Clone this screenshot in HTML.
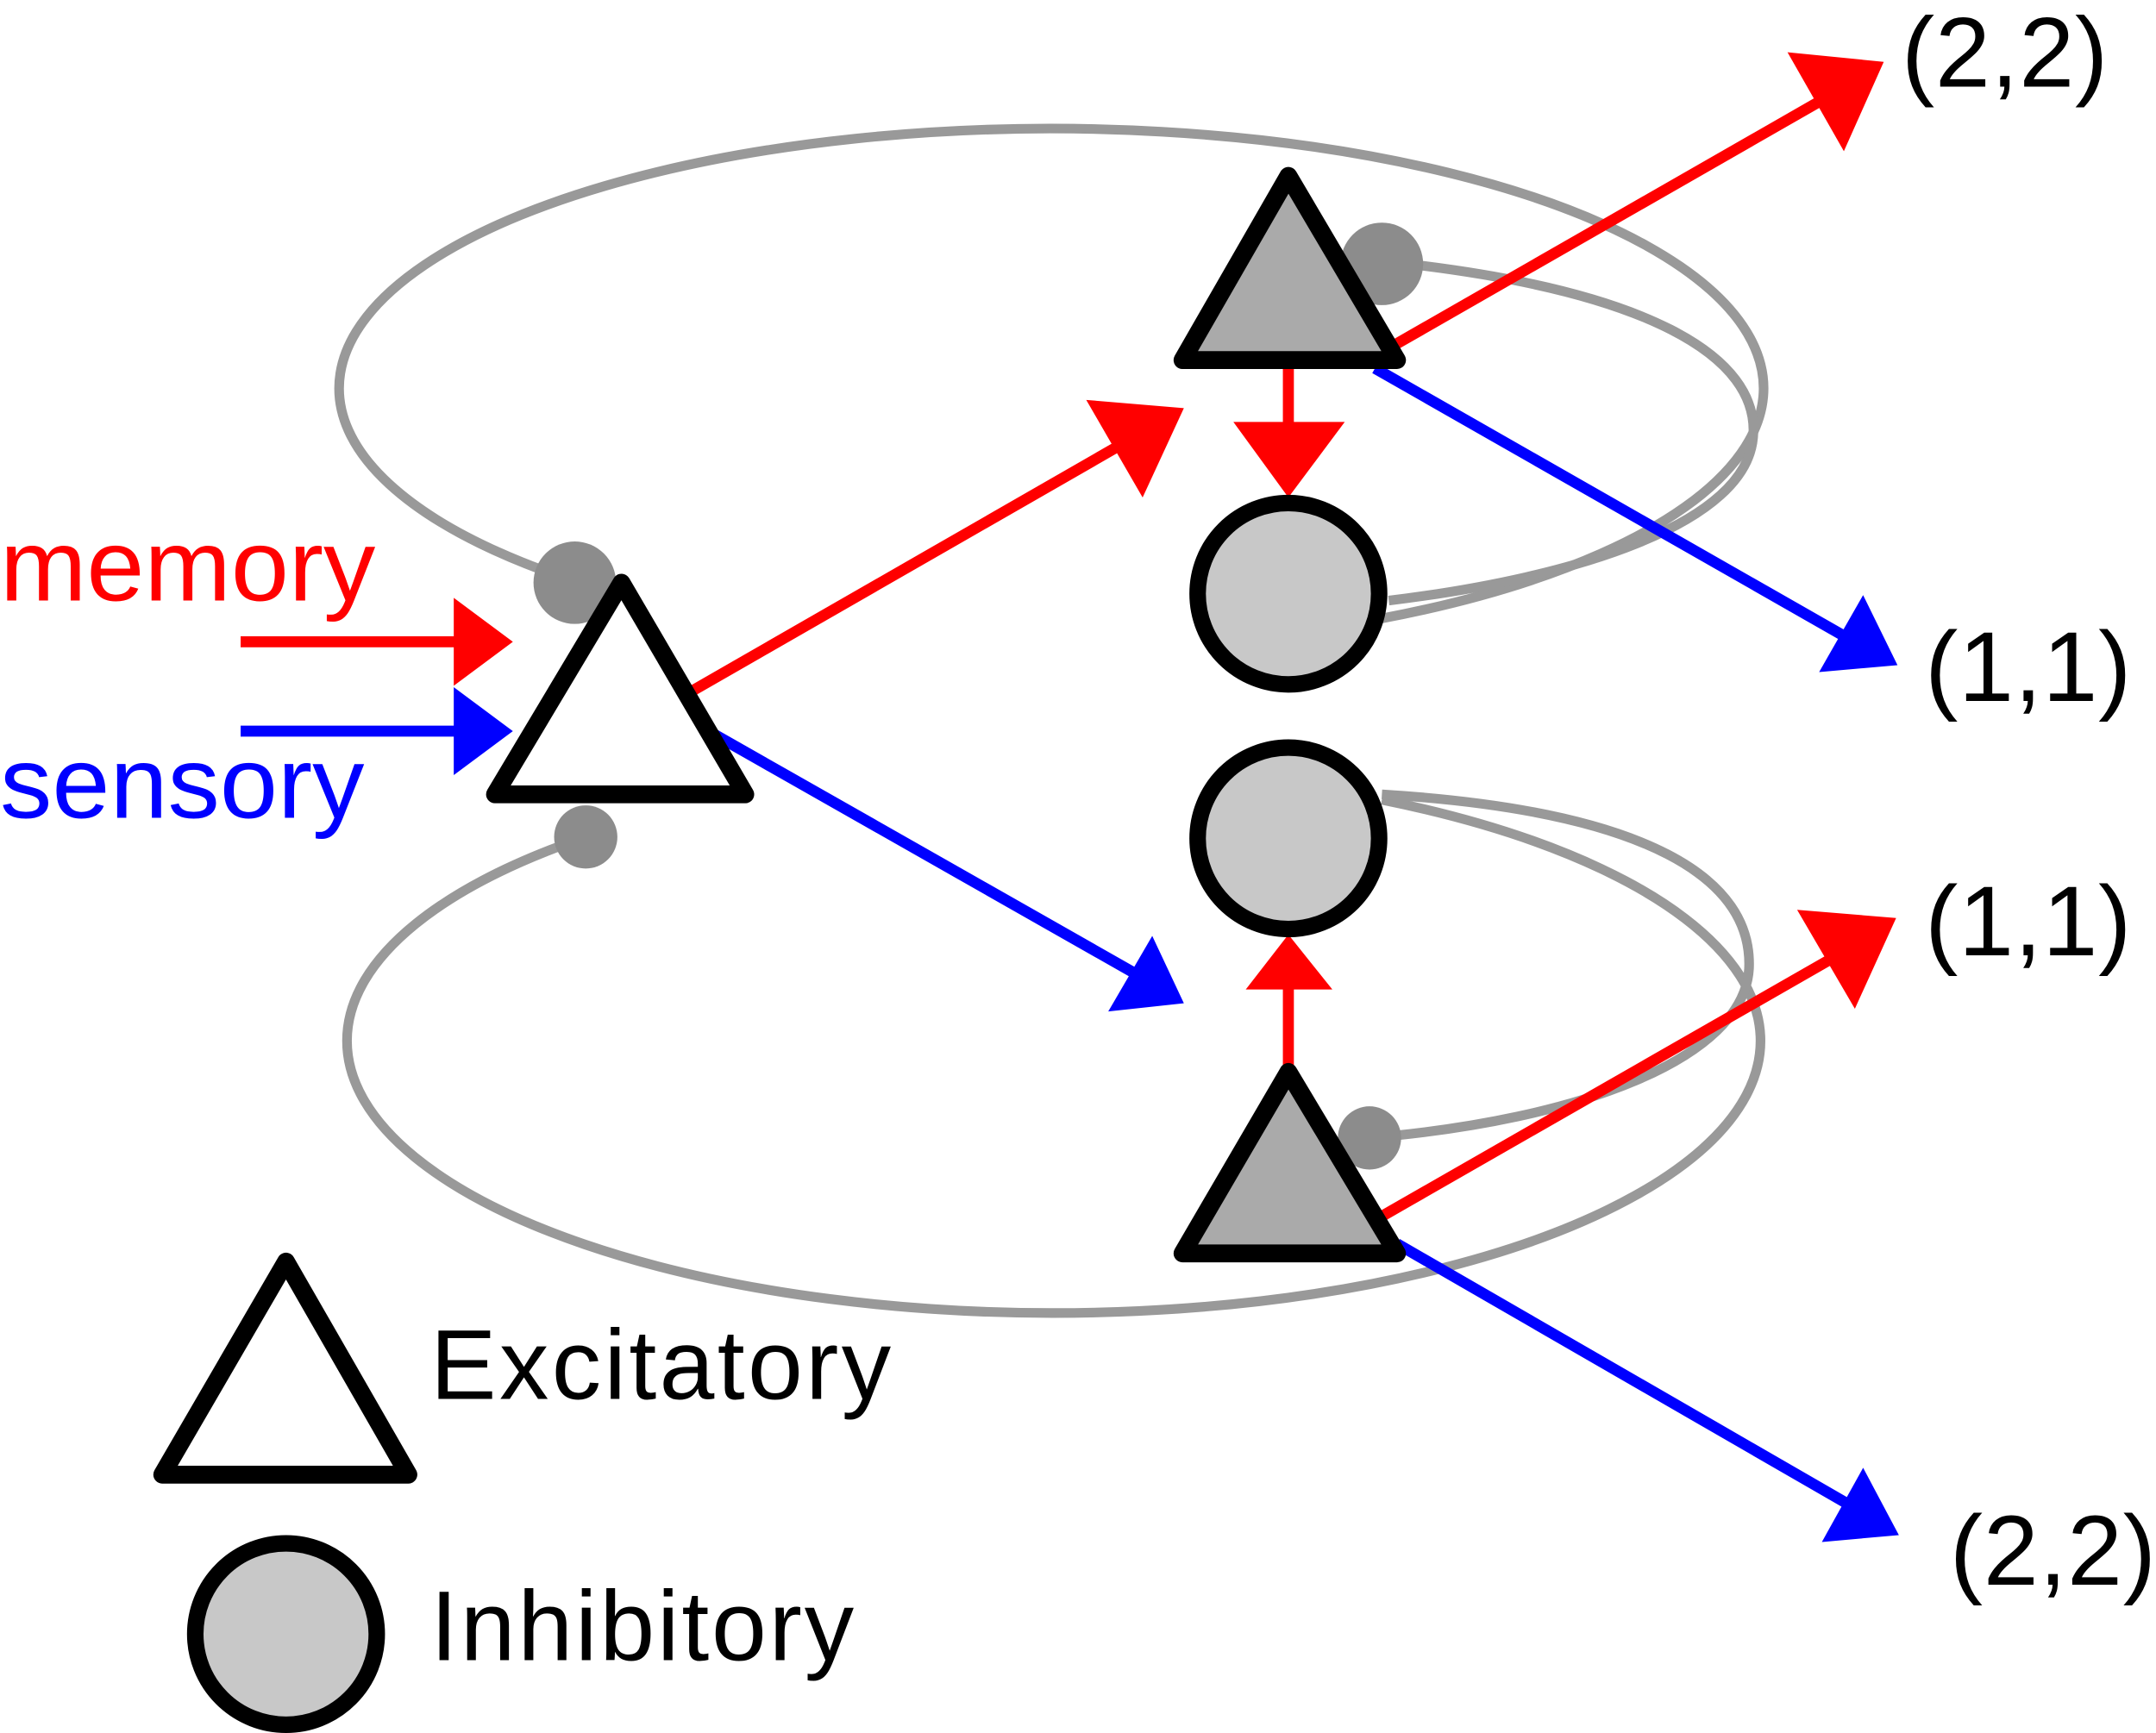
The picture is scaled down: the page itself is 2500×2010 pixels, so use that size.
<!DOCTYPE html>
<html><head><meta charset="utf-8"><style>
html,body{margin:0;padding:0;background:#fff;}
svg{display:block;}
text{font-family:"Liberation Sans",sans-serif;}
</style></head><body>
<svg width="2500" height="2010" viewBox="0 0 1568 1261" preserveAspectRatio="none" xmlns="http://www.w3.org/2000/svg">
<g fill="none" stroke="#999" stroke-width="7">
<path d="M395 415 A518 189 0 1 1 1005 450"/>
<path d="M1005 190 C1200 210 1280 260 1275 318 C1270 380 1150 420 1010 437"/>
<path d="M426 609 A514 198 0 1 0 1005 582"/>
<path d="M1005 578 C1200 590 1275 640 1272 705 C1268 770 1150 815 996 828"/>
</g>
<g fill="#8c8c8c">
<circle cx="418" cy="424" r="30"/>
<circle cx="1005" cy="192" r="30"/>
<circle cx="426" cy="609" r="23"/>
<circle cx="996" cy="828" r="23"/>
</g>
<g stroke-width="8">
<line x1="175" y1="467" x2="335" y2="467" stroke="#f00"/>
<line x1="175" y1="532" x2="335" y2="532" stroke="#00f"/>
<line x1="503" y1="503" x2="818" y2="322" stroke="#f00"/>
<line x1="503" y1="525" x2="832" y2="712" stroke="#00f"/>
<line x1="1016" y1="250" x2="1330" y2="70" stroke="#f00"/>
<line x1="1000" y1="268" x2="1345" y2="465" stroke="#00f"/>
<line x1="937" y1="268" x2="937" y2="312" stroke="#f00"/>
<line x1="937" y1="778" x2="937" y2="718" stroke="#f00"/>
<line x1="1005" y1="885" x2="1340" y2="693" stroke="#f00"/>
<line x1="1016" y1="905" x2="1345" y2="1095" stroke="#00f"/>
</g>
<g fill="#f00">
<polygon points="330,435 373,467 330,499"/>
<polygon points="861,297 790,291 831,362"/>
<polygon points="1370,45 1300,38 1341,110"/>
<polygon points="897,307 978,307 937,362"/>
<polygon points="906,720 969,720 937,680"/>
<polygon points="1379,668 1307,662 1349,734"/>
</g>
<g fill="#00f">
<polygon points="330,500 373,532 330,564"/>
<polygon points="861,730 806,736 838,681"/>
<polygon points="1380,484 1355,433 1323,489"/>
<polygon points="1381,1117 1355,1068 1325,1122"/>
</g>
<g stroke="#000" stroke-width="13" stroke-linejoin="round">
<polygon points="360,578 452,424 542,578" fill="#fff"/>
<polygon points="860,262 937,128 1016,262" fill="#aaa"/>
<polygon points="860,912 937,780 1016,912" fill="#aaa"/>
<polygon points="118,1073 208,918 297,1073" fill="#fff"/>
</g>
<g stroke="#000" stroke-width="12" fill="#c8c8c8">
<circle cx="937" cy="432" r="66"/>
<circle cx="937" cy="610" r="66"/>
<circle cx="208" cy="1189" r="66"/>
</g>
<text x="0" y="437" font-size="74" fill="#f00" textLength="273" lengthAdjust="spacingAndGlyphs">memory</text>
<text x="0" y="595" font-size="74" fill="#00f" textLength="265" lengthAdjust="spacingAndGlyphs">sensory</text>
<g font-size="72" fill="#000">
<text x="1383" y="63" textLength="150">(2,2)</text>
<text x="1400" y="510" textLength="150">(1,1)</text>
<text x="1400" y="695" textLength="150">(1,1)</text>
<text x="1418" y="1153" textLength="150">(2,2)</text>
<text x="313" y="1018" textLength="335">Excitatory</text>
<text x="313" y="1208" textLength="308">Inhibitory</text>
</g>
</svg>
</body></html>
